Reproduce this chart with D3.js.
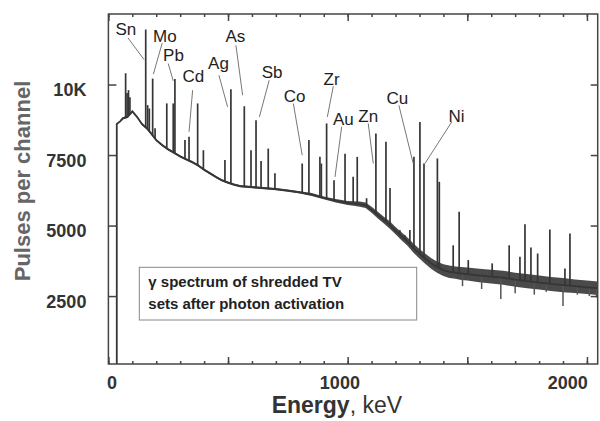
<!DOCTYPE html>
<html>
<head>
<meta charset="utf-8">
<script src="https://cdn.jsdelivr.net/npm/d3@7"></script>
<style>
  body { margin: 0; background: #fff; }
  svg text { font-family: Arial, "Liberation Sans", sans-serif; }
</style>
</head>
<body>
<div id="wrapper"></div>
<script>
// continuum (keV, pulses per channel)
const baseEnergy = [35, 35, 50, 60, 80, 100, 120, 140, 160, 180, 200, 225, 250, 275, 300, 325, 350, 375, 400, 425,
  450, 475, 500, 525, 550, 600, 650, 700, 750, 800, 850, 900, 950,
  1000, 1025, 1050, 1075, 1100, 1125, 1150, 1175, 1200, 1225, 1250, 1275, 1300, 1325, 1350, 1375, 1400, 1425,
  1450, 1475, 1500, 1550, 1600, 1650, 1700, 1750, 1800, 1850, 1900, 1950, 2000, 2045];
const baseCounts = [92, 8600, 8700, 8800, 8850, 9050, 8850, 8600, 8450, 8250, 8030, 7850, 7700, 7580, 7450, 7350, 7250, 7130, 6980, 6850,
  6720, 6600, 6520, 6450, 6400, 6360, 6330, 6290, 6240, 6180, 6100, 5980, 5880,
  5800, 5780, 5760, 5720, 5560, 5380, 5200, 5030, 4820, 4620, 4430, 4200, 4000, 3820, 3650, 3520, 3420, 3360,
  3330, 3300, 3280, 3230, 3190, 3150, 3080, 3030, 2980, 2930, 2890, 2850, 2810, 2780];
// half width of the noisy band around the continuum
const bandHalf = [0, 0, 40, 40, 40, 40, 40, 40, 40, 40, 40, 40, 40, 40, 40, 40, 40, 40, 40, 40,
  40, 40, 40, 40, 40, 40, 40, 40, 40, 40, 50, 50, 60,
  70, 80, 90, 100, 110, 120, 120, 130, 130, 140, 150, 160, 170, 180, 190, 200, 210, 220,
  220, 230, 230, 240, 240, 250, 250, 250, 250, 250, 250, 240, 240, 240];

// gamma lines: energy (keV) and top of the peak
const peakEnergy = [72, 78, 84, 90, 156, 164, 171, 185, 195, 244, 271, 278, 320, 337, 373, 397, 487, 512, 568,
  596, 617, 638, 668, 696, 810, 838, 884, 890, 912, 943, 989, 1023, 1040, 1079, 1118, 1160, 1177, 1218, 1239,
  1260, 1277, 1302, 1319, 1375, 1383, 1441, 1466, 1504, 1604, 1675, 1720, 1741, 1766, 1794, 1845, 1908, 1929];
const peakTop = [10400, 9700, 9800, 9550, 11950, 9270, 9150, 10210, 8450, 9330, 9330, 10200, 8030, 8145, 9330, 7670, 7320, 9830, 9230,
  7670, 8735, 7290, 7730, 6850, 7200, 8030, 7435, 7200, 8620, 6610, 7550, 6730, 7435, 5970, 8265, 7970, 6330, 4840, 4660,
  4840, 7435, 8675, 7200, 7380, 6550, 4300, 5490, 3775, 3660, 4300, 3895, 5050, 4225, 4010, 4860, 3480, 4720];

// deepest noise excursions below the band at high energy
const dipEnergy = [1480, 1560, 1640, 1700, 1780, 1830, 1900, 1960, 2010, 2040];
const dipCounts = [2850, 2750, 2400, 2600, 2550, 2650, 2150, 2550, 2500, 2450];

// element labels: text position and leader line end, in keV / counts
const elements = ["Sn", "Mo", "Pb", "Cd", "Ag", "As", "Sb", "Co", "Zr", "Au", "Zn", "Cu", "Ni"];
const labelE = [73, 236, 272, 355, 460, 531, 684, 778, 933, 982, 1086, 1208, 1455];
const labelC = [11745, 11510, 10825, 10090, 10540, 11510, 10220, 9385, 9975, 8560, 8675, 9325, 8675];
const leadStartE = [82, 225, 250, 352, 462, 533, 672, 773, 940, 975, 1086, 1214, 1435];
const leadStartC = [11650, 11475, 10745, 9800, 10330, 11390, 10150, 9325, 9940, 8500, 8620, 9265, 8675];
const leadEndE = [149, 188, 271, 337, 498, 561, 631, 810, 915, 947, 1107, 1274, 1323];
const leadEndC = [10885, 10370, 10130, 8320, 9205, 9620, 8850, 7495, 8850, 6725, 7200, 7200, 7200];

const yTicks = [2500, 5000, 7500, 10000];
const xLabels = [0, 1000, 2000];
const boxLines = ["\u03b3  spectrum of shredded TV", "sets after photon activation"];

const dim = { width: 600, height: 421, left: 108.4, right: 597.7, top: 14, bottom: 364 };

const svg = d3.select("#wrapper").append("svg")
  .attr("width", dim.width)
  .attr("height", dim.height);

const x = d3.scaleLinear().domain([0, 2045]).range([dim.left, dim.right]);
const y = d3.scaleLinear().domain([92, 12500]).range([dim.bottom, dim.top]);

const base = baseEnergy.map((e, i) => ({ e: e, c: baseCounts[i], h: bandHalf[i] }));
const bis = d3.bisector(d => d.e).left;
function baseAt(e) {
  const i = bis(base, e);
  if (i <= 0) return base[0].c;
  const a = base[i - 1], b = base[i];
  const t = (e - a.e) / (b.e - a.e);
  return a.c + (b.c - a.c) * t;
}

const ink = "#363636";

// noisy band
svg.append("path")
  .datum(base.slice(2))
  .attr("d", d3.area().x(d => x(d.e)).y0(d => y(d.c - d.h)).y1(d => y(d.c + d.h)))
  .attr("fill", "#4a4a4a");

// noise dips
svg.append("g").selectAll("line")
  .data(dipEnergy.map((e, i) => ({ e: e, c: dipCounts[i] })))
  .join("line")
  .attr("x1", d => x(d.e)).attr("x2", d => x(d.e))
  .attr("y1", d => y(baseAt(d.e))).attr("y2", d => y(d.c))
  .attr("stroke", "#555")
  .attr("stroke-width", 1.5);

// continuum line
svg.append("path")
  .datum(base)
  .attr("d", d3.line().x(d => x(d.e)).y(d => y(d.c)))
  .attr("fill", "none")
  .attr("stroke", ink)
  .attr("stroke-width", 1.8);

// peaks
svg.append("g").selectAll("line")
  .data(peakEnergy.map((e, i) => ({ e: e, top: peakTop[i] })))
  .join("line")
  .attr("x1", d => x(d.e)).attr("x2", d => x(d.e))
  .attr("y1", d => y(baseAt(d.e))).attr("y2", d => y(d.top))
  .attr("stroke", ink)
  .attr("stroke-width", 1.7);

// leader lines and labels
const lab = svg.append("g");
elements.forEach((name, i) => {
  lab.append("line")
    .attr("x1", x(leadStartE[i])).attr("y1", y(leadStartC[i]))
    .attr("x2", x(leadEndE[i])).attr("y2", y(leadEndC[i]))
    .attr("stroke", "#777").attr("stroke-width", 1);
  lab.append("text")
    .attr("x", x(labelE[i])).attr("y", y(labelC[i]))
    .attr("text-anchor", "middle")
    .attr("font-size", "17px")
    .attr("fill", "#1e1e1e")
    .text(name);
});

// frame
svg.append("rect")
  .attr("x", dim.left).attr("y", dim.top)
  .attr("width", dim.right - dim.left).attr("height", dim.bottom - dim.top)
  .attr("fill", "none").attr("stroke", "#444").attr("stroke-width", 1.5);

const minor = d3.range(0, 2045, 100);
const mid = d3.range(0, 2045, 500);

function tickAxis(axis, vals, size, ty) {
  const g = svg.append("g")
    .attr("transform", `translate(0,${ty})`)
    .call(axis(x).tickValues(vals).tickSize(size).tickFormat(""));
  g.select(".domain").remove();
  g.selectAll("line").attr("stroke", "#444").attr("stroke-width", 1.5);
  return g;
}
tickAxis(d3.axisBottom, minor, -3, dim.bottom);
tickAxis(d3.axisBottom, mid, -7, dim.bottom);
tickAxis(d3.axisTop, minor, -3, dim.top);
tickAxis(d3.axisTop, mid, -7, dim.top);

// x labels
const xl = svg.append("g")
  .attr("transform", `translate(0,${dim.bottom})`)
  .call(d3.axisBottom(x).tickValues(xLabels).tickSize(0).tickPadding(12).tickFormat(d3.format("d")));
xl.select(".domain").remove();
xl.selectAll("text")
  .attr("font-size", "18px").attr("font-weight", "bold").attr("fill", "#333")
  .attr("dx", d => 3 - d * 0.0113)
  .attr("font-family", "Arial, 'Liberation Sans', sans-serif");

// y axis left and right
const yl = svg.append("g")
  .attr("transform", `translate(${dim.left},0)`)
  .call(d3.axisLeft(y).tickValues(yTicks).tickSize(-8).tickPadding(22)
    .tickFormat(d => d === 10000 ? "10K" : d3.format("d")(d)));
yl.select(".domain").remove();
yl.selectAll("line").attr("stroke", "#444").attr("stroke-width", 1.5);
yl.selectAll("text")
  .attr("font-size", "18px").attr("font-weight", "bold").attr("fill", "#333")
  .attr("dy", "0.62em")
  .attr("font-family", "Arial, 'Liberation Sans', sans-serif");

const yr = svg.append("g")
  .attr("transform", `translate(${dim.right},0)`)
  .call(d3.axisRight(y).tickValues(yTicks).tickSize(-7).tickFormat(""));
yr.select(".domain").remove();
yr.selectAll("line").attr("stroke", "#444").attr("stroke-width", 1.5);

// axis titles
svg.append("text")
  .attr("transform", "translate(30,181) rotate(-90)")
  .attr("text-anchor", "middle")
  .attr("font-size", "22px").attr("font-weight", "bold").attr("fill", "#666")
  .text("Pulses per channel");

const xt = svg.append("text")
  .attr("x", 271.7).attr("y", 413)
  .attr("font-size", "23px").attr("fill", "#333");
xt.append("tspan").attr("font-weight", "bold").text("Energy");
xt.append("tspan").text(", keV");

// annotation box
svg.append("rect")
  .attr("x", 139.3).attr("y", 267.3).attr("width", 277.4).attr("height", 52.7)
  .attr("fill", "#fff").attr("stroke", "#888").attr("stroke-width", 1);
svg.append("g").selectAll("text")
  .data(boxLines)
  .join("text")
  .attr("x", 148.3).attr("y", (d, i) => 287 + i * 22.3)
  .attr("font-size", "15px").attr("font-weight", "bold").attr("fill", "#222")
  .text(d => d);
</script>
</body>
</html>
